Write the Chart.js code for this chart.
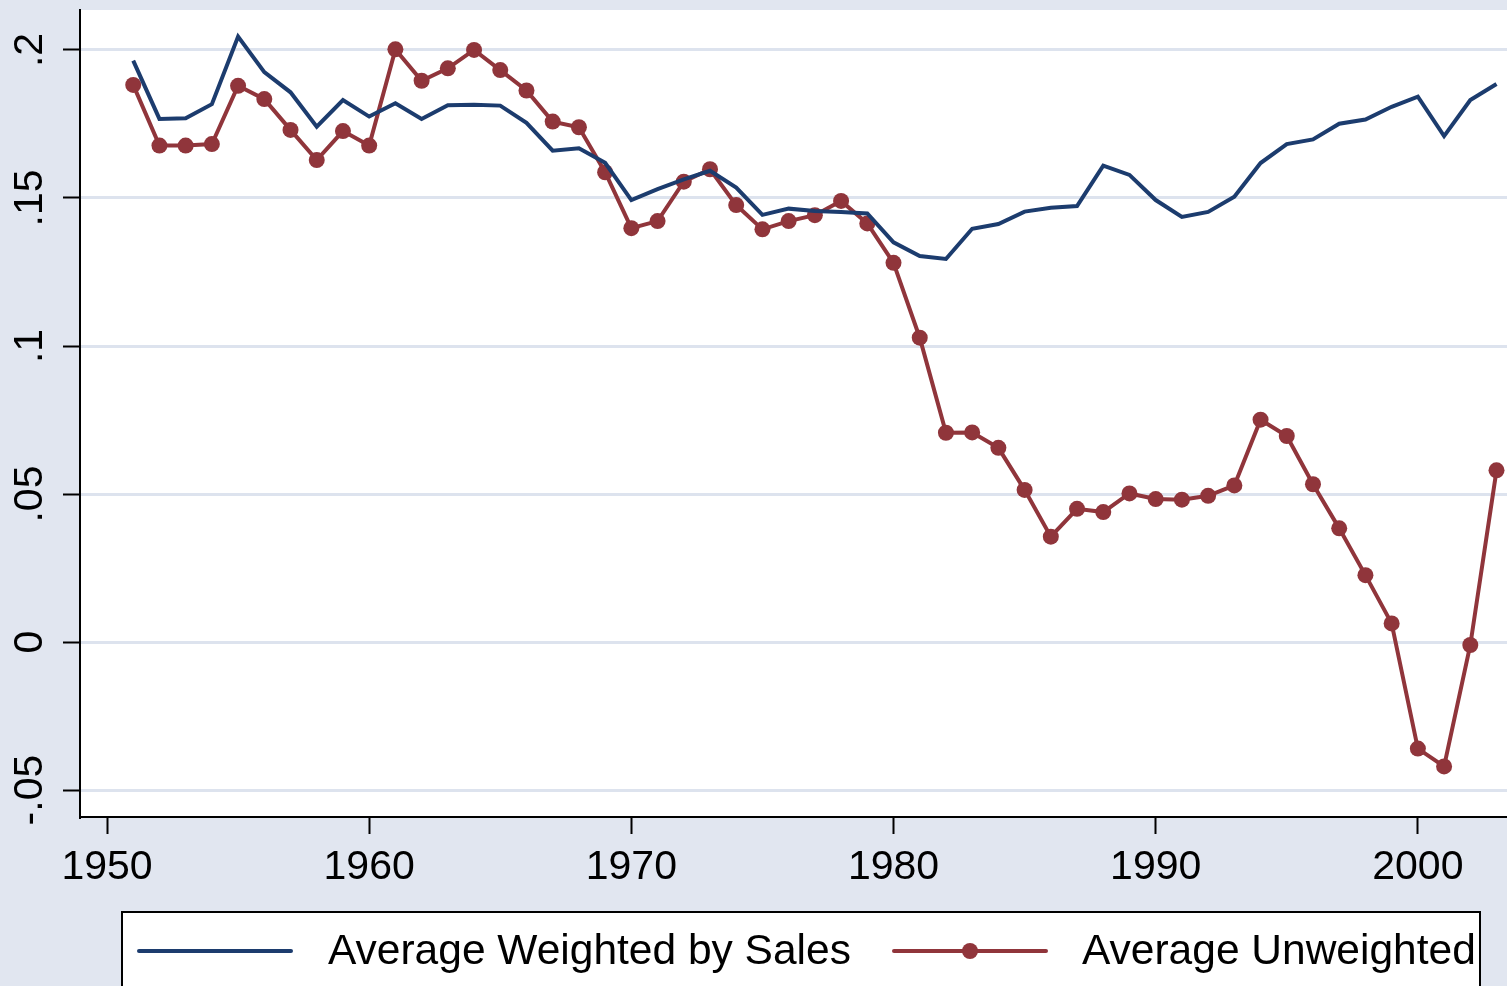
<!DOCTYPE html>
<html>
<head>
<meta charset="utf-8">
<script src="https://cdn.jsdelivr.net/npm/chart.js@4.4.1/dist/chart.umd.min.js"></script>
<style>
  html, body { margin: 0; padding: 0; background: #e1e6f0; overflow: hidden; }
  #wrap { width: 1507px; height: 986px; position: relative; }
</style>
</head>
<body>
<div id="wrap"><canvas id="chart"></canvas></div>
<script>
const years = [1951, 1952, 1953, 1954, 1955, 1956, 1957, 1958, 1959, 1960,
  1961, 1962, 1963, 1964, 1965, 1966, 1967, 1968, 1969, 1970,
  1971, 1972, 1973, 1974, 1975, 1976, 1977, 1978, 1979, 1980,
  1981, 1982, 1983, 1984, 1985, 1986, 1987, 1988, 1989, 1990,
  1991, 1992, 1993, 1994, 1995, 1996, 1997, 1998, 1999, 2000,
  2001, 2002, 2003];
const weighted = [0.1964, 0.1767, 0.1769, 0.1817, 0.2045, 0.1925, 0.1857, 0.1741, 0.1831, 0.1775,
  0.1820, 0.1767, 0.1813, 0.1815, 0.1812, 0.1754, 0.1660, 0.1668, 0.1619, 0.1493,
  0.1530, 0.1563, 0.1592, 0.1535, 0.1443, 0.1464, 0.1456, 0.1453, 0.1448, 0.1350,
  0.1304, 0.1294, 0.1396, 0.1412, 0.1454, 0.1467, 0.1473, 0.1609, 0.1578, 0.1493,
  0.1436, 0.1453, 0.1504, 0.1618, 0.1682, 0.1698, 0.1751, 0.1765, 0.1808, 0.1842,
  0.1709, 0.1831, 0.1885];
const unweighted = [0.1882, 0.1677, 0.1677, 0.1682, 0.1879, 0.1834, 0.1730, 0.1628, 0.1726, 0.1677,
  0.2002, 0.1896, 0.1938, 0.2000, 0.1932, 0.1863, 0.1758, 0.1739, 0.1587, 0.1398,
  0.1422, 0.1555, 0.1597, 0.1476, 0.1394, 0.1422, 0.1442, 0.1490, 0.1414, 0.1281,
  0.1028, 0.0707, 0.0708, 0.0656, 0.0514, 0.0356, 0.0450, 0.0439, 0.0502, 0.0483,
  0.0481, 0.0494, 0.0529, 0.0751, 0.0696, 0.0533, 0.0384, 0.0226, 0.0063, -0.0360,
  -0.0420, -0.0010, 0.0580];
const xTicks = [1950, 1960, 1970, 1980, 1990, 2000];
const yTicks = [-0.05, 0, 0.05, 0.1, 0.15, 0.2];
const yTickLabels = ["-.05", "0", ".05", ".1", ".15", ".2"];
const seriesNames = ["Average Weighted by Sales", "Average Unweighted"];

const blue = "#1c3c6e";
const red = "#90353b";
const bg = "#e1e6f0";

// background + stata style legend box
const stataLook = {
  id: "stataLook",
  beforeDraw(chart) {
    const { ctx, chartArea: a } = chart;
    ctx.save();
    ctx.fillStyle = bg;
    ctx.fillRect(0, 0, chart.width, chart.height);
    ctx.fillStyle = "#ffffff";
    ctx.fillRect(a.left, a.top, a.right - a.left, a.bottom - a.top);
    ctx.restore();
  },
  afterDraw(chart) {
    const ctx = chart.ctx;
    ctx.save();
    ctx.fillStyle = "#ffffff";
    ctx.fillRect(122, 912, 1358, 90);
    ctx.strokeStyle = "#000000";
    ctx.lineWidth = 2;
    ctx.strokeRect(122, 912, 1358, 90);
    ctx.lineCap = "round";
    ctx.lineWidth = 4;
    ctx.strokeStyle = blue;
    ctx.beginPath(); ctx.moveTo(139, 951); ctx.lineTo(291, 951); ctx.stroke();
    ctx.strokeStyle = red;
    ctx.beginPath(); ctx.moveTo(894, 951); ctx.lineTo(1046, 951); ctx.stroke();
    ctx.fillStyle = red;
    ctx.beginPath(); ctx.arc(970, 951, 8, 0, Math.PI * 2); ctx.fill();
    ctx.fillStyle = "#000000";
    ctx.font = "42.5px 'Liberation Sans', Arial, sans-serif";
    ctx.textBaseline = "alphabetic";
    ctx.fillText(seriesNames[0], 328, 964);
    ctx.fillText(seriesNames[1], 1082, 964);
    ctx.restore();
  }
};

new Chart(document.getElementById("chart"), {
  type: "line",
  data: {
    datasets: [
      {
        label: seriesNames[0],
        data: years.map((y, i) => ({ x: y, y: weighted[i] })),
        borderColor: blue,
        borderWidth: 4,
        pointRadius: 0,
        tension: 0,
      },
      {
        label: seriesNames[1],
        data: years.map((y, i) => ({ x: y, y: unweighted[i] })),
        borderColor: red,
        backgroundColor: red,
        borderWidth: 4,
        pointRadius: 8,
        pointBorderWidth: 0,
        pointBackgroundColor: red,
        tension: 0,
      },
    ],
  },
  options: {
    responsive: true,
    maintainAspectRatio: false,
    devicePixelRatio: 1,
    animation: false,
    layout: {
      autoPadding: false,
      padding: { top: 10, right: 0, bottom: 89, left: 0 },
    },
    plugins: {
      legend: { display: false },
      tooltip: { enabled: false },
    },
    scales: {
      x: {
        type: "linear",
        min: 1948.97,
        max: 2003.4,
        afterBuildTicks: (s) => { s.ticks = xTicks.map((v) => ({ value: v })); },
        afterFit: (s) => { s.height = 80; s.paddingLeft = 0; s.paddingRight = 0; },
        grid: {
          drawOnChartArea: false,
          tickLength: 17,
          tickColor: "#000000",
          tickWidth: 2,
        },
        border: { color: "#000000", width: 2 },
        ticks: {
          color: "#000000",
          font: { family: "'Liberation Sans', Arial, sans-serif", size: 41 },
          padding: 9,
          maxRotation: 0,
          callback: (v) => String(v),
        },
      },
      y: {
        min: -0.0591,
        max: 0.2135,
        afterBuildTicks: (s) => { s.ticks = yTicks.map((v) => ({ value: v })); },
        afterFit: (s) => { s.width = 80; s.paddingTop = 0; s.paddingBottom = 0; },
        grid: {
          color: "#dde3ee",
          lineWidth: 3,
          tickLength: 17,
          tickColor: "#000000",
          tickWidth: 2,
        },
        border: { color: "#000000", width: 2 },
        ticks: {
          color: "#000000",
          font: { family: "'Liberation Sans', Arial, sans-serif", size: 41 },
          minRotation: 90,
          maxRotation: 90,
          crossAlign: "center",
          padding: -3,
          callback: (v) => {
            const i = yTicks.findIndex((t) => Math.abs(t - v) < 1e-9);
            return i >= 0 ? yTickLabels[i] : "";
          },
        },
      },
    },
  },
  plugins: [stataLook],
});
</script>
</body>
</html>
